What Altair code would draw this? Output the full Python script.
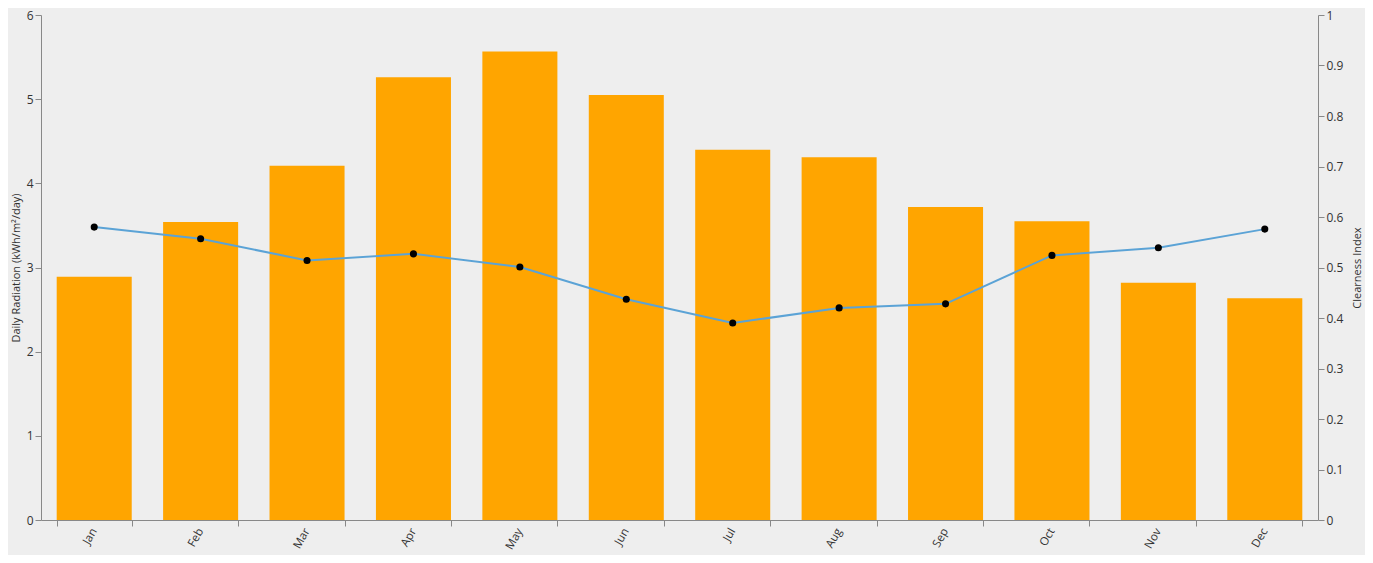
import altair as alt
import pandas as pd

months = ["Jan", "Feb", "Mar", "Apr", "May", "Jun", "Jul", "Aug", "Sep", "Oct", "Nov", "Dec"]
radiation = [2.89, 3.54, 4.21, 5.26, 5.565, 5.05, 4.40, 4.31, 3.72, 3.55, 2.82, 2.635]
clearness = [0.580, 0.557, 0.514, 0.527, 0.501, 0.437, 0.390, 0.420, 0.428, 0.524, 0.539, 0.576]

df = pd.DataFrame({"month": months, "radiation": radiation, "clearness": clearness})

FONT = "Open Sans"
LABEL_COLOR = "#333333"
AXIS_COLOR = "#888888"

x = alt.X(
    "month:N",
    sort=months,
    title=None,
    scale=alt.Scale(paddingInner=0.295, paddingOuter=0.1475),
    axis=alt.Axis(
        labelAngle=-60,
        tickBand="extent",
        labelPadding=3,
        domainColor=AXIS_COLOR,
        tickColor=AXIS_COLOR,
        tickSize=6,
        labelColor=LABEL_COLOR,
        labelFontSize=11.5,
        labelFont=FONT,
    ),
)

bars = alt.Chart(df).mark_bar(color="#FFA500").encode(
    x=x,
    y=alt.Y(
        "radiation:Q",
        scale=alt.Scale(domain=[0, 6], nice=False),
        axis=alt.Axis(
            title="Daily Radiation (kWh/m²/day)",
            values=[0, 1, 2, 3, 4, 5, 6],
            grid=False,
            domainColor=AXIS_COLOR,
            tickColor=AXIS_COLOR,
            tickSize=6,
            labelColor=LABEL_COLOR,
            labelFontSize=12,
            labelFont=FONT,
            titleFont=FONT,
            titleFontSize=11,
            titleFontWeight="normal",
            titleColor=LABEL_COLOR,
            titlePadding=5,
        ),
    ),
)

right_axis = alt.Axis(
    title="Clearness Index",
    orient="right",
    values=[0, 0.1, 0.2, 0.3, 0.4, 0.5, 0.6, 0.7, 0.8, 0.9, 1.0],
    format="~g",
    grid=False,
    domainColor=AXIS_COLOR,
    tickColor=AXIS_COLOR,
    tickSize=6,
    labelColor=LABEL_COLOR,
    labelFontSize=12,
    labelFont=FONT,
    titleFont=FONT,
    titleFontSize=11,
    titleFontWeight="normal",
    titleColor=LABEL_COLOR,
    titleAngle=-90,
    titlePadding=20,
)

yr = alt.Y("clearness:Q", scale=alt.Scale(domain=[0, 1], nice=False), axis=right_axis)

line = alt.Chart(df).mark_line(color="#5BA3D6", strokeWidth=2).encode(x=x, y=yr)
points = alt.Chart(df).mark_circle(color="#000000", size=50, opacity=1).encode(x=x, y=yr)

right = alt.layer(line, points)

chart = (
    alt.layer(bars, right)
    .resolve_scale(y="independent")
    .properties(
        width=1277,
        height=505,
        background="#EEEEEE",
        padding={"left": 33, "top": 7, "right": 47, "bottom": 35},
        autosize=alt.AutoSizeParams(type="none"),
    )
    .configure_view(stroke=None)
)

chart.save("out.html", embed_options={"renderer": "svg", "actions": False})
